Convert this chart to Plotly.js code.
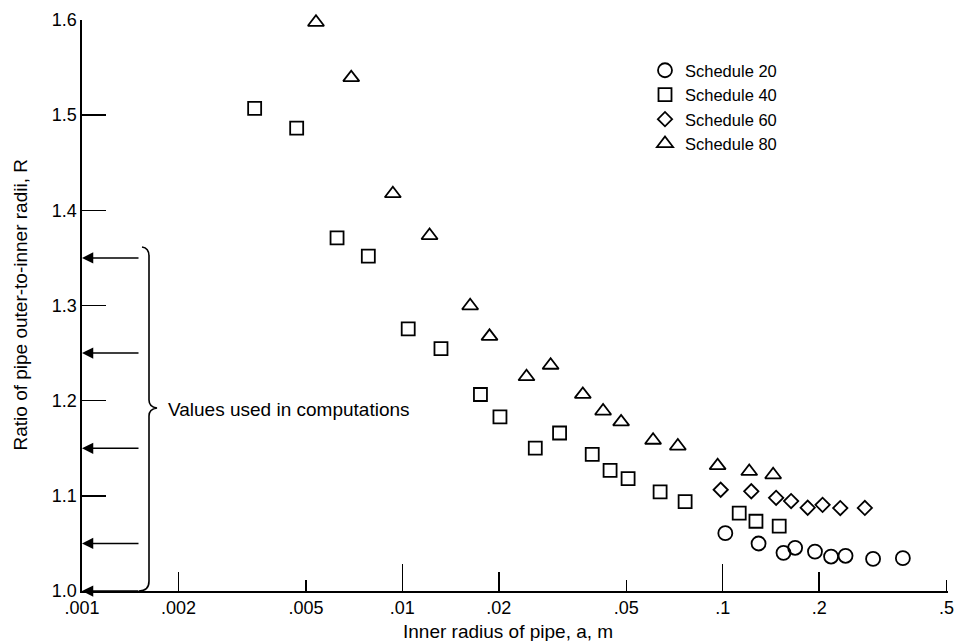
<!DOCTYPE html>
<html>
<head>
<meta charset="utf-8">
<script src="https://cdn.plot.ly/plotly-3.0.1.min.js"></script>
<style>html,body{margin:0;padding:0;background:#fff;}#chart{width:956px;height:641px;}</style>
</head>
<body>
<div id="chart"></div>
<script>
// ---- data ----
const sched20_a = [0.1019, 0.1294, 0.1548, 0.1683, 0.1941, 0.2179, 0.2418, 0.2947, 0.3651];
const sched20_R = [1.0608, 1.0499, 1.0401, 1.0454, 1.0414, 1.0362, 1.0370, 1.0337, 1.0345];

const sched40_a = [0.003459, 0.004679, 0.006254, 0.00783, 0.01043, 0.0132, 0.01753, 0.02017, 0.0260, 0.03096, 0.03915, 0.04451, 0.05066, 0.06377, 0.07633, 0.1126, 0.1270, 0.1501];
const sched40_R = [1.5072, 1.4864, 1.3711, 1.3519, 1.2754, 1.2546, 1.2065, 1.1829, 1.1501, 1.1660, 1.1435, 1.1268, 1.1180, 1.1042, 1.0939, 1.0819, 1.0733, 1.0682];

const sched60_a = [0.09856, 0.1228, 0.1468, 0.1635, 0.1842, 0.2050, 0.2328, 0.2778];
const sched60_R = [1.1064, 1.1048, 1.0979, 1.0945, 1.0875, 1.0905, 1.0871, 1.0873];

const sched80_a = [0.005375, 0.006925, 0.00934, 0.01216, 0.01628, 0.01871, 0.02441, 0.02903, 0.03659, 0.04233, 0.04818, 0.06063, 0.07243, 0.09643, 0.1210, 0.1437];
const sched80_R = [1.5976, 1.5394, 1.4175, 1.3735, 1.2997, 1.2676, 1.2252, 1.2372, 1.2066, 1.1891, 1.1777, 1.1584, 1.1523, 1.1317, 1.1256, 1.1221];

const seriesNames = ['Schedule 20', 'Schedule 40', 'Schedule 60', 'Schedule 80'];
const computationValues = [1.35, 1.25, 1.15, 1.05, 1.0];

const xTickVals = [0.001, 0.002, 0.005, 0.01, 0.02, 0.05, 0.1, 0.2, 0.5];
const xTickText = ['.001', '.002', '.005', '.01', '.02', '.05', '.1', '.2', '.5'];
const xMidTicks = [0.002, 0.02, 0.2];
const xLongTicks = [0.01, 0.1];
const yTickVals = [1.0, 1.1, 1.2, 1.3, 1.4, 1.5, 1.6];
const yTickText = ['1.0', '1.1', '1.2', '1.3', '1.4', '1.5', '1.6'];

// ---- layout geometry ----
const W = 956, H = 641;
const M = {l: 82, r: 8, t: 20, b: 50};
const PW = W - M.l - M.r, PH = H - M.t - M.b;
function P(px, py) { return ((px - M.l) / PW).toFixed(5) + ',' + ((H - M.b - py) / PH).toFixed(5); }

const FONT = 'Liberation Sans, Arial, sans-serif';
const mk = (sym, size) => ({symbol: sym, size: size, color: '#000', line: {color: '#000', width: 1.8}});

const traces = [
  {x: sched20_a, y: sched20_R, name: seriesNames[0], mode: 'markers', type: 'scatter', marker: mk('circle-open', 14), cliponaxis: false},
  {x: sched40_a, y: sched40_R, name: seriesNames[1], mode: 'markers', type: 'scatter', marker: mk('square-open', 13), cliponaxis: false},
  {x: sched60_a, y: sched60_R, name: seriesNames[2], mode: 'markers', type: 'scatter', marker: mk('diamond-open', 11), cliponaxis: false},
  {x: sched80_a, y: sched80_R, name: seriesNames[3], mode: 'markers', type: 'scatter', marker: mk('triangle-up-open', 14), cliponaxis: false},
  {x: [], y: [], xaxis: 'x2', yaxis: 'y', showlegend: false, hoverinfo: 'skip', type: 'scatter'},
  {x: [], y: [], xaxis: 'x3', yaxis: 'y', showlegend: false, hoverinfo: 'skip', type: 'scatter'}
];

const xRange = [Math.log10(0.001), Math.log10(0.505)];

const annotations = computationValues.map(v => ({
  xref: 'paper', x: 0, yref: 'y', y: v, text: '', showarrow: true,
  axref: 'pixel', ayref: 'pixel', ax: 58, ay: 0,
  arrowhead: 2, arrowsize: 1.5, arrowwidth: 1.5, arrowcolor: '#000', standoff: 0
}));
annotations.push({
  xref: 'paper', x: (166 - M.l) / PW, xanchor: 'left', yref: 'y', y: 1.191, yanchor: 'middle',
  text: 'Values used in computations', showarrow: false, font: {family: FONT, size: 19, color: '#000'}
});
annotations.push({
  xref: 'paper', x: (20 - M.l) / PW, xanchor: 'center', yref: 'paper', y: 0.5, yanchor: 'middle',
  text: 'Ratio of pipe outer-to-inner radii, R', textangle: -90, showarrow: false,
  font: {family: FONT, size: 19, color: '#000'}
});
annotations.push({
  xref: 'paper', x: (508 - M.l) / PW, xanchor: 'center', yref: 'paper', y: (H - M.b - 631) / PH, yanchor: 'middle',
  text: 'Inner radius of pipe, a, m', showarrow: false, font: {family: FONT, size: 19, color: '#000'}
});

const bracePath = 'M' + P(142, 247) + ' Q' + P(149, 248) + ' ' + P(149, 256) +
  ' L' + P(149, 400) + ' Q' + P(149, 407) + ' ' + P(157, 408) +
  ' Q' + P(149, 409) + ' ' + P(149, 416) +
  ' L' + P(149, 581) + ' Q' + P(149, 591) + ' ' + P(139, 591);

const axisCommon = {type: 'log', range: xRange, showgrid: false, zeroline: false, ticks: 'inside', tickcolor: '#000', tickwidth: 1.5, ticklabeloverflow: 'allow'};

const layout = {
  width: W, height: H, margin: M,
  paper_bgcolor: '#fff', plot_bgcolor: '#fff',
  font: {family: FONT, size: 18, color: '#000'},
  showlegend: true,
  legend: {x: (645 - M.l) / PW, xanchor: 'left', y: (H - M.b - 53) / PH, yanchor: 'top',
           font: {family: FONT, size: 16.5, color: '#000'}, bgcolor: 'rgba(0,0,0,0)', borderwidth: 0, tracegroupgap: 0},
  xaxis: Object.assign({}, axisCommon, {
    tickmode: 'array', tickvals: xTickVals, ticktext: xTickText, ticklen: 11,
    showline: true, linecolor: '#000', linewidth: 1.6,
    tickfont: {family: FONT, size: 18, color: '#000'}, anchor: 'y'
  }),
  xaxis2: Object.assign({}, axisCommon, {
    overlaying: 'x', anchor: 'y', tickmode: 'array', tickvals: xMidTicks, ticklen: 19,
    showticklabels: false, showline: false
  }),
  xaxis3: Object.assign({}, axisCommon, {
    overlaying: 'x', anchor: 'y', tickmode: 'array', tickvals: xLongTicks, ticklen: 27,
    showticklabels: false, showline: false
  }),
  yaxis: {
    range: [1.0, 1.6], showgrid: false, zeroline: false,
    tickmode: 'array', tickvals: yTickVals, ticktext: yTickText,
    ticks: 'inside', ticklen: 24, tickwidth: 1.5, tickcolor: '#000',
    showline: true, linecolor: '#000', linewidth: 1.6,
    tickfont: {family: FONT, size: 18, color: '#000'}
  },
  shapes: [{type: 'path', xref: 'paper', yref: 'paper', path: bracePath, line: {color: '#000', width: 1.6}}],
  annotations: annotations
};

Plotly.newPlot('chart', traces, layout, {staticPlot: true, displayModeBar: false});
</script>
</body>
</html>
